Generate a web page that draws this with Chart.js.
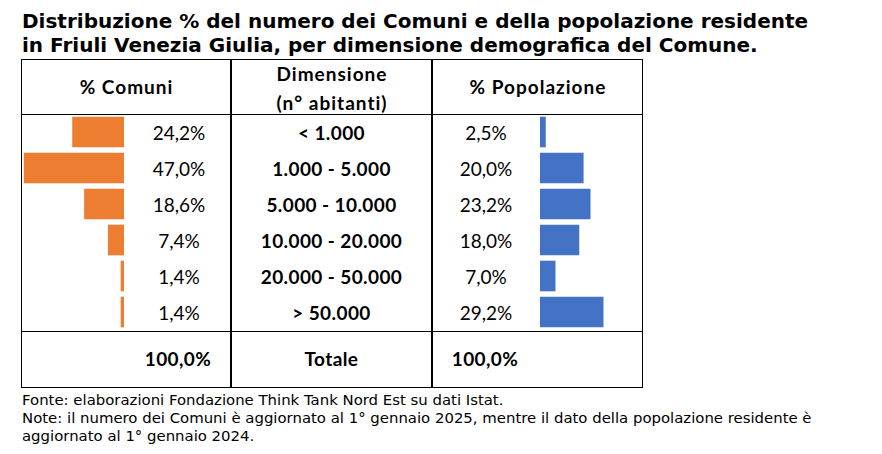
<!DOCTYPE html>
<html>
<head>
<meta charset="utf-8">
<script src="https://cdn.jsdelivr.net/npm/chart.js@4.4.1/dist/chart.umd.min.js"></script>
<style>
  html, body { margin: 0; padding: 0; background: #fff; }
  #wrap { position: relative; width: 882px; height: 454px; overflow: hidden; background: #fff; }
  .abs { position: absolute; }
  #title { left: 22px; top: 9px; font-family: "DejaVu Sans", Verdana, sans-serif; font-weight: bold; font-size: 20px; line-height: 24px; color: #000; white-space: nowrap; }
  .hl { position: absolute; background: #000; height: 1px; }
  .vl { position: absolute; background: #000; width: 1px; }
  .cell { position: absolute; font-family: Lato, "Open Sans", sans-serif; font-size: 19px; color: #000; text-align: center; white-space: nowrap; }
  .b { font-weight: bold; letter-spacing: 0.4px; }
  .h { font-weight: bold; letter-spacing: 1px; padding-left: 1px; box-sizing: border-box; }
  #notes { left: 22px; top: 391px; font-family: "DejaVu Sans", Verdana, sans-serif; font-size: 14.9px; line-height: 18px; color: #000; white-space: nowrap; }
  canvas { position: absolute; }
</style>
</head>
<body>
<div id="wrap">
  <div id="title" class="abs">Distribuzione % del numero dei Comuni e della popolazione residente<br>in Friuli Venezia Giulia, per dimensione demografica del Comune.</div>

  <div class="hl" style="left:21px;top:59px;width:622px;"></div>
  <div class="hl" style="left:21px;top:114px;width:622px;"></div>
  <div class="hl" style="left:21px;top:331px;width:622px;"></div>
  <div class="hl" style="left:21px;top:387px;width:622px;"></div>
  <div class="vl" style="left:21px;top:59px;height:329px;"></div>
  <div class="vl" style="left:230px;top:59px;height:329px;width:2px;"></div>
  <div class="vl" style="left:431px;top:59px;height:329px;width:2px;"></div>
  <div class="vl" style="left:642px;top:59px;height:329px;"></div>

  <div id="hdr"></div>
  <div id="rows"></div>

  <canvas id="cLeft" width="102" height="216" style="left:22px;top:114px;width:102px;height:216px;"></canvas>
  <canvas id="cRight" width="93" height="216" style="left:540px;top:114px;width:93px;height:216px;"></canvas>

  <div id="notes" class="abs">Fonte: elaborazioni Fondazione Think Tank Nord Est su dati Istat.<br>Note: il numero dei Comuni è aggiornato al 1° gennaio 2025, mentre il dato della popolazione residente è<br>aggiornato al 1° gennaio 2024.</div>
</div>

<script>
// ---- Data ----
const categories = ["< 1.000", "1.000 - 5.000", "5.000 - 10.000", "10.000 - 20.000", "20.000 - 50.000", "> 50.000"];
const comuniPct = [24.2, 47.0, 18.6, 7.4, 1.4, 1.4];
const popolazionePct = [2.5, 20.0, 23.2, 18.0, 7.0, 29.2];
const headerComuni = "% Comuni";
const headerDim = ["Dimensione", "(n° abitanti)"];
const headerPop = "% Popolazione";
const totalLabel = "Totale";
const totalComuni = "100,0%";
const totalPop = "100,0%";

const fmt = v => v.toFixed(1).replace('.', ',') + '%';

// ---- Cells ----
function cell(parent, text, left, width, top, height, cls) {
  const d = document.createElement('div');
  d.className = 'cell' + (cls ? ' ' + cls : '');
  d.style.left = left + 'px';
  d.style.width = width + 'px';
  d.style.top = top + 'px';
  d.style.height = height + 'px';
  d.style.lineHeight = height + 'px';
  d.textContent = text;
  parent.appendChild(d);
}
const hdr = document.getElementById('hdr');
cell(hdr, headerComuni, 22, 208, 73, 28, 'h');
cell(hdr, headerDim[0], 232, 199, 60, 28, 'h');
cell(hdr, headerDim[1], 232, 199, 89, 28, 'h');
cell(hdr, headerPop, 433, 209, 73, 28, 'h');

const rows = document.getElementById('rows');
const rowTop = 114, rowH = 36;
categories.forEach((c, i) => {
  const t = rowTop + i * rowH;
  cell(rows, fmt(comuniPct[i]), 139, 80, t + 1, rowH, '');
  cell(rows, c, 232, 199, t + 1, rowH, 'b');
  cell(rows, fmt(popolazionePct[i]), 446, 80, t + 1, rowH, '');
});
cell(rows, totalComuni, 138, 80, 331, 56, 'b');
cell(rows, totalLabel, 232, 199, 331, 56, 'b');
cell(rows, totalPop, 445, 80, 331, 56, 'b');

// ---- Bars ----
function barChart(id, values, color, reverse, max) {
  return new Chart(document.getElementById(id), {
    type: 'bar',
    data: {
      labels: categories,
      datasets: [{ data: values, backgroundColor: color, borderWidth: 0, barThickness: 30 }]
    },
    options: {
      indexAxis: 'y',
      responsive: false,
      animation: false,
      layout: { padding: 0 },
      plugins: { legend: { display: false }, tooltip: { enabled: false }, title: { display: false } },
      scales: {
        x: { display: false, min: 0, max: max, reverse: reverse, grid: { display: false } },
        y: { display: false, grid: { display: false } }
      }
    }
  });
}
barChart('cLeft', comuniPct, '#ED7D31', true, 48);
barChart('cRight', popolazionePct, '#4472C4', false, 43);
</script>
</body>
</html>
